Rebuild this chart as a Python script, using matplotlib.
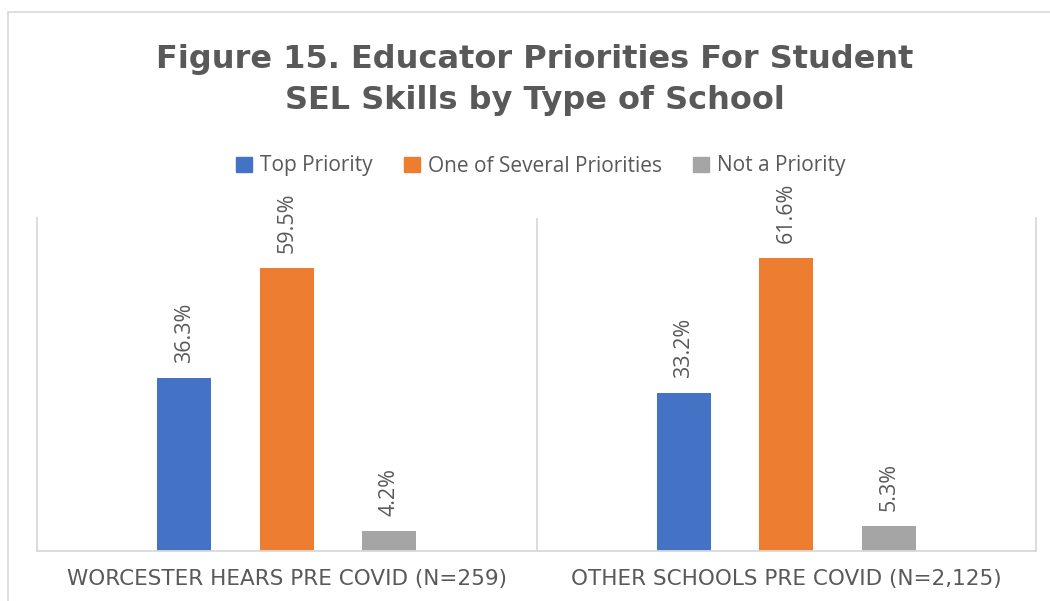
import matplotlib
matplotlib.use("Agg")
import matplotlib.pyplot as plt
import numpy as np
from matplotlib.patches import Rectangle, Patch

title = "Figure 15. Educator Priorities For Student\nSEL Skills by Type of School"
categories = ["WORCESTER HEARS PRE COVID (N=259)", "OTHER SCHOOLS PRE COVID (N=2,125)"]
series_names = ["Top Priority", "One of Several Priorities", "Not a Priority"]
top_priority = [36.3, 33.2]
several_priorities = [59.5, 61.6]
not_priority = [4.2, 5.3]
colors = ["#4472C4", "#ED7D31", "#A5A5A5"]

series = [top_priority, several_priorities, not_priority]
text_color = "#595959"
grid_color = "#D9D9D9"

fig = plt.figure(figsize=(10.5, 6.01), dpi=100)
ax = fig.add_axes([37/1050, 50/601, 999/1050, 333/601])

# outer chart border
fig.patches.append(Rectangle((8/1050, -0.1), 1.2, (601-12)/601 + 0.1, transform=fig.transFigure,
                             fill=False, edgecolor=grid_color, linewidth=1.2, zorder=0))

x = np.arange(len(categories))
width = 0.108
spacing = 0.205
for i, (vals, c) in enumerate(zip(series, colors)):
    pos = x + (i - 1) * spacing
    bars = ax.bar(pos, vals, width=width, color=c, zorder=2)
    for b, v in zip(bars, vals):
        ax.text(b.get_x() + b.get_width()/2, v + 3.2, f"{v:.1f}%", rotation=90,
                ha="center", va="bottom", color=text_color, fontsize=15.5,
                family="Open Sans")

ax.set_xlim(-0.5, len(categories) - 0.5)
ax.set_ylim(0, 70)
ax.set_yticks([])
ax.set_xticks(x)
ax.set_xticklabels(categories, fontsize=15.5, color=text_color, family="DejaVu Sans")
ax.tick_params(axis="x", length=0, pad=13)
for s in ["left", "right", "bottom"]:
    ax.spines[s].set_color(grid_color)
    ax.spines[s].set_linewidth(1.3)
ax.spines["top"].set_visible(False)
ax.axvline(0.5, color=grid_color, linewidth=1.3, zorder=1)

fig.text(535/1050, 1 - 80/601, title, ha="center", va="center", fontsize=23, fontweight="bold",
         color=text_color, family="DejaVu Sans", linespacing=1.45)

handles = [Patch(facecolor=c, edgecolor=c) for c in colors]
fig.legend(handles, series_names, loc="center", bbox_to_anchor=(541/1050, 1 - 166/601), ncol=3,
           frameon=False, handlelength=0.75, handleheight=0.75,
           handletextpad=0.4, columnspacing=1.5, labelcolor=text_color,
           prop={"family": "Open Sans", "size": 15})

fig.savefig("out.png", dpi=100)
